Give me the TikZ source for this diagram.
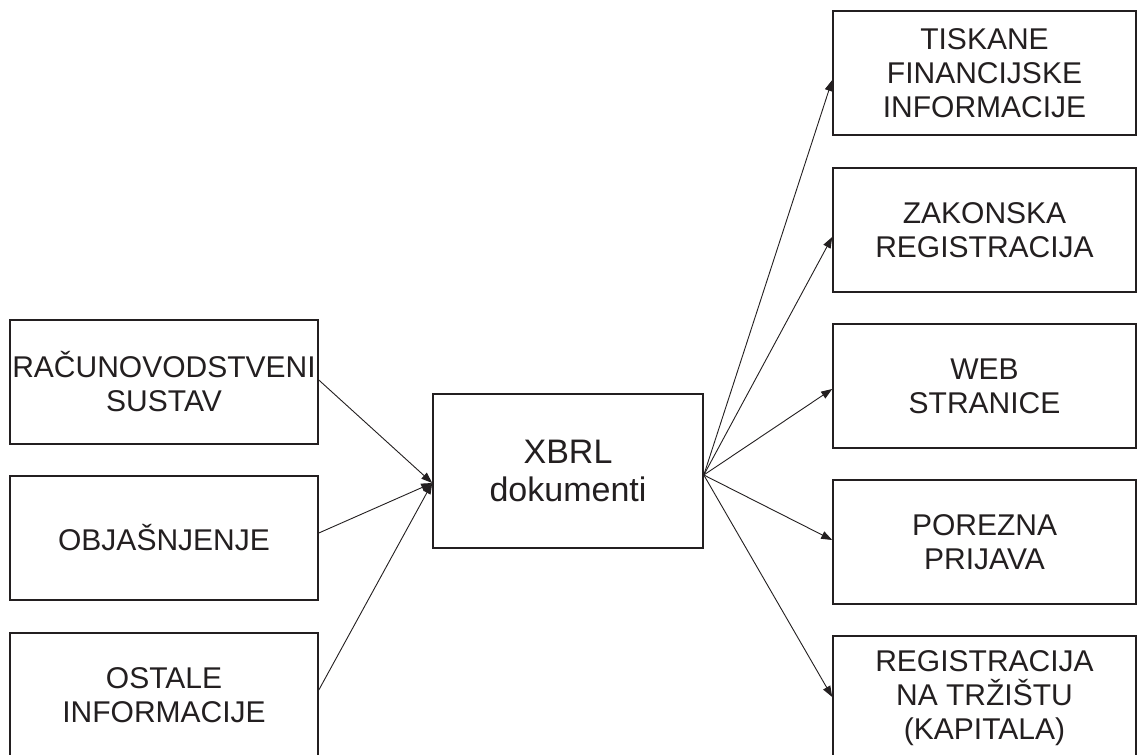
\documentclass[tikz,border=0pt]{standalone}
\usepackage{fontspec}
\setmainfont{Liberation Sans}
\usetikzlibrary{arrows.meta}
\definecolor{ink}{HTML}{231F20}
\begin{document}
\begin{tikzpicture}[x=1pt,y=-1pt,
  box/.style={draw=ink,line width=1.6pt,rectangle,inner sep=0pt,align=center,text=ink,
    font=\fontsize{30}{34}\selectfont},
  lbox/.style={box,minimum width=308pt,minimum height=124pt},
  rbox/.style={box,minimum width=303pt,minimum height=124pt},
  conn/.style={draw=ink,line width=0.9pt,-{Triangle[length=11pt,width=8pt]}}]
\clip (0,0) rectangle (1138,755);
\useasboundingbox (0,0) rectangle (1138,755);
\fill[white] (0,0) rectangle (1138,755);
% left
\node[lbox] (racun) at (164,382) {RAČUNOVODSTVENI\\SUSTAV};
\node[lbox] (objas) at (164,538) {OBJAŠNJENJE};
\node[lbox] (ostale) at (164,695) {OSTALE\\INFORMACIJE};
% centre
\node[box,minimum width=270pt,minimum height=154pt,font=\fontsize{34}{38}\selectfont] (xbrl) at (568,471) {XBRL\\dokumenti};
% right
\node[rbox] (tisk) at (984.5,73) {TISKANE\\FINANCIJSKE\\INFORMACIJE};
\node[rbox] (zakon) at (984.5,230) {ZAKONSKA\\REGISTRACIJA};
\node[rbox] (web) at (984.5,386) {WEB\\STRANICE};
\node[rbox] (porez) at (984.5,542) {POREZNA\\PRIJAVA};
\node[rbox] (trz) at (984.5,698) {REGISTRACIJA\\NA TRŽIŠTU\\(KAPITALA)};
% connectors in
\coordinate (xin) at ([yshift=-12pt]xbrl.west);
\draw[conn] ([yshift=2pt]racun.east) -- (xin);
\draw[conn] ([yshift=5pt]objas.east) -- (xin);
\draw[conn] ([yshift=5pt]ostale.east) -- (xin);
% connectors out
\coordinate (xout) at ([yshift=-4pt]xbrl.east);
\draw[conn] (xout) -- ([yshift=-7pt]tisk.west);
\draw[conn] (xout) -- ([yshift=-7pt]zakon.west);
\draw[conn] (xout) -- ([yshift=-3pt]web.west);
\draw[conn] (xout) -- ([yshift=2pt]porez.west);
\draw[conn] (xout) -- ([yshift=1pt]trz.west);
\end{tikzpicture}
\end{document}
